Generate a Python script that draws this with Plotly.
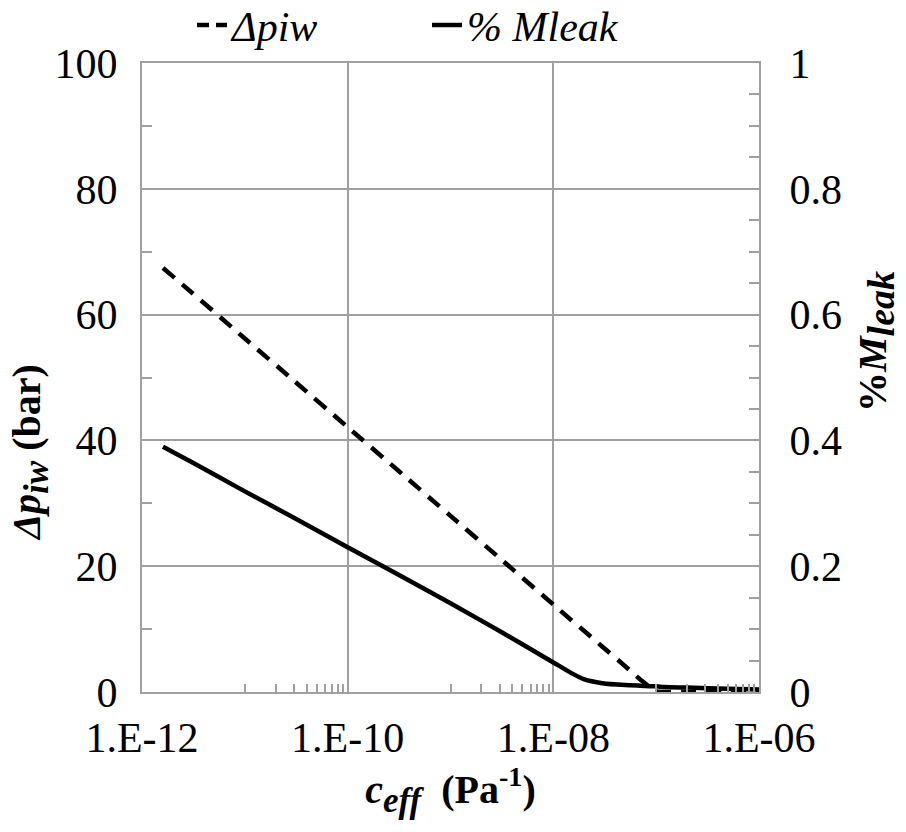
import plotly.graph_objects as go

# ---- data ----
c_eff = [1.6e-12, 3e-12, 1e-11, 3e-11, 1e-10, 3e-10, 1e-9, 3e-9, 1e-8, 1.5e-8,
         2e-8, 3e-8, 5e-8, 7e-8, 1e-7, 1.2e-7, 2e-7, 5e-7, 1e-6]
dp_iw = [67.4, 63.6, 56.2, 49.5, 42.1, 35.4, 28.0, 21.3, 13.9, 11.4,
         9.7, 7.2, 4.1, 2.0, 0.1, 0.0, 0.0, 0.0, 0.0]
m_leak = [0.390, 0.366, 0.319, 0.277, 0.230, 0.188, 0.141, 0.097, 0.047, 0.030,
          0.020, 0.014, 0.011, 0.010, 0.009, 0.008, 0.007, 0.005, 0.004]

x_tickvals = [1e-12, 1e-10, 1e-8, 1e-6]
x_ticktext = ["1.E-12", "1.E-10", "1.E-08", "1.E-06"]
x_minor = [k * 10.0 ** e for e in (-11, -9, -7) for k in range(1, 10)]
y1_tickvals = [0, 20, 40, 60, 80, 100]
y1_minor = [10, 30, 50, 70, 90]
y2_tickvals = [0, 0.2, 0.4, 0.6, 0.8, 1.0]
y2_ticktext = ["0", "0.2", "0.4", "0.6", "0.8", "1"]
y2_minor = [0.05, 0.1, 0.15, 0.25, 0.3, 0.35, 0.45, 0.5, 0.55, 0.65, 0.7, 0.75, 0.85, 0.9, 0.95]

FONT = "Liberation Serif"
GRAY = "#a0a0a0"
TICK = 42
TITLE = 40
SUB = "<sub><span style='font-size:35px'>{}</span></sub>"
SUB_R = "<sub><span style='font-size:38px'>{}</span></sub>"

# plot-area geometry in pixels
L, R, T, B, W, H = 142, 147, 63, 140, 906, 832
PW, PH = W - L - R, H - T - B


def px_x(px):
    return (px - L) / PW


def px_y(py):
    return (H - B - py) / PH


fig = go.Figure()
fig.add_trace(go.Scatter(x=c_eff, y=dp_iw, mode="lines", name="<i>Δpiw</i>",
                         showlegend=False, legendgroup="dp",
                         line=dict(color="black", width=4.5, dash="15px,10px",
                                   shape="spline", smoothing=0.6)))
fig.add_trace(go.Scatter(x=c_eff, y=m_leak, mode="lines", name="<i>% Mleak</i>",
                         showlegend=False, legendgroup="ml",
                         yaxis="y2", line=dict(color="black", width=4.5,
                                               shape="spline", smoothing=0.6)))
# legend entries (sample style only, no data)
fig.add_trace(go.Scatter(x=[None], y=[None], mode="lines", name="<i>Δpiw</i>",
                         legendgroup="dp",
                         line=dict(color="black", width=4.5, dash="12px,7px")))
fig.add_trace(go.Scatter(x=[None], y=[None], mode="lines", name="<i>% Mleak</i>",
                         legendgroup="ml", yaxis="y2",
                         line=dict(color="black", width=4.5)))

fig.update_layout(
    width=W, height=H,
    margin=dict(l=L, r=R, t=T, b=B, autoexpand=False),
    paper_bgcolor="white", plot_bgcolor="white",
    font=dict(family=FONT, color="black", size=TICK),
    showlegend=True,
    legend=dict(orientation="h", x=px_x(192), xanchor="left", y=1.06, yanchor="middle",
                font=dict(size=42, family=FONT), bgcolor="rgba(0,0,0,0)",
                entrywidth=190, entrywidthmode="pixels", tracegroupgap=0),
    xaxis=dict(type="log", range=[-12, -6], tickmode="array",
               tickvals=x_tickvals, ticktext=x_ticktext,
               showgrid=True, gridcolor=GRAY, gridwidth=1.5,
               showline=True, linecolor=GRAY, linewidth=2, mirror=True,
               ticks="", zeroline=False, ticklabelstandoff=8,
               tickfont=dict(size=TICK, family=FONT),
               minor=dict(tickmode="array", tickvals=x_minor, ticks="inside",
                          ticklen=8, tickwidth=1.5, tickcolor=GRAY, showgrid=False),
               title=dict(text="<b><i>c" + SUB.format("eff") + "</i>  (Pa<sup>-1</sup>)</b>",
                          font=dict(size=TITLE, family=FONT), standoff=12)),
    yaxis=dict(range=[0, 100], tickmode="array", tickvals=y1_tickvals,
               showgrid=True, gridcolor=GRAY, gridwidth=1.5,
               showline=True, linecolor=GRAY, linewidth=2, mirror=True,
               ticks="", zeroline=False, ticklabelstandoff=14,
               tickfont=dict(size=TICK, family=FONT),
               minor=dict(tickmode="array", tickvals=y1_minor, ticks="inside",
                          ticklen=10, tickwidth=1.5, tickcolor=GRAY, showgrid=False)),
    yaxis2=dict(range=[0, 1], overlaying="y", side="right", tickmode="array",
                tickvals=y2_tickvals, ticktext=y2_ticktext,
                showgrid=False, showline=True, linecolor=GRAY, linewidth=2,
                ticks="", zeroline=False, ticklabelstandoff=20,
                tickfont=dict(size=TICK, family=FONT),
                minor=dict(tickmode="array", tickvals=y2_minor, ticks="inside",
                           ticklen=10, tickwidth=1.5, tickcolor=GRAY, showgrid=False)),
    annotations=[
        dict(text="<b><i>Δp" + SUB.format("iw") + "</i> (bar)</b>", textangle=-90,
             xref="paper", yref="paper", x=px_x(30), y=px_y(453),
             xanchor="center", yanchor="middle", showarrow=False,
             font=dict(size=TITLE, family=FONT, color="black")),
        dict(text="<b>%<i>M" + SUB_R.format("leak") + "</i></b>", textangle=-90,
             xref="paper", yref="paper", x=px_x(876), y=px_y(342),
             xanchor="center", yanchor="middle", showarrow=False,
             font=dict(size=TITLE, family=FONT, color="black")),
    ],
)

fig.write_html("out.html")
